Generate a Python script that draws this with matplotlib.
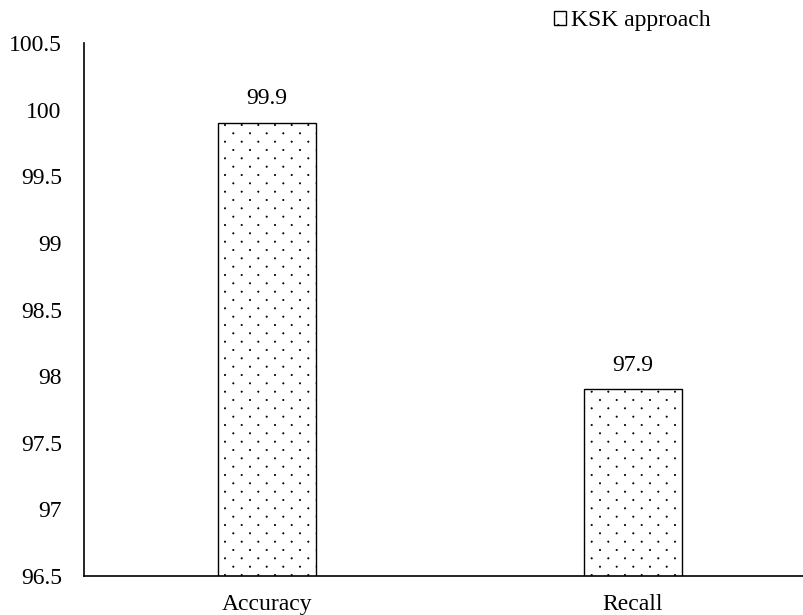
import numpy as np
import matplotlib
matplotlib.use("Agg")
import matplotlib.pyplot as plt
import matplotlib.hatch as mhatch
from matplotlib.path import Path

plt.rcParams["font.family"] = ["Liberation Serif", "DejaVu Serif"]
plt.rcParams["hatch.linewidth"] = 0.5

metrics = ["Accuracy", "Recall"]
scores = [99.9, 97.9]
series_name = "KSK approach"
yticks = [96.5, 97, 97.5, 98, 98.5, 99, 99.5, 100, 100.5]
ytick_labels = ["96.5", "97", "97.5", "98", "98.5", "99", "99.5", "100", "100.5"]


# the '.' hatch of matplotlib is too coarse vertically, so swap in a dot
# pattern with rows twice as close (like the office-style dotted fill)
class SparseDots(mhatch.HatchPatternBase):
    def __init__(self, hatch, density):
        cols = hatch.count(".") * density
        rows = 2 * cols
        circle = Path.unit_circle()
        self.shape_vertices = circle.vertices * (0.04 / max(cols, 1))
        self.shape_codes = circle.codes
        self.points = []
        for r in range(rows + 1):
            if r % 2 == 0:
                xs = np.linspace(0, 1, cols + 1)
            else:
                xs = np.linspace(0.5 / max(cols, 1), 1 - 0.5 / max(cols, 1), cols)
            for xx in xs:
                self.points.append((xx, r / rows))
        self.num_vertices = len(self.points) * len(self.shape_vertices) if cols else 0

    def set_vertices_and_codes(self, vertices, codes):
        nv = len(self.shape_vertices)
        for i, (px, py) in enumerate(self.points):
            vertices[i * nv:(i + 1) * nv] = self.shape_vertices + (px, py)
            codes[i * nv:(i + 1) * nv] = self.shape_codes


mhatch._hatch_types = [
    SparseDots if t is mhatch.SmallFilledCircles else t for t in mhatch._hatch_types
]

fig = plt.figure(figsize=(8.04, 6.15), dpi=100)
ax = fig.add_axes([84 / 804, 1 - 576 / 615, 1 - 84 / 804, (576 - 43) / 615])

x = list(range(len(metrics)))
bars = ax.bar(
    x,
    scores,
    width=0.27,
    color="white",
    edgecolor="black",
    linewidth=1.0,
    hatch=".",
    label=series_name,
)

for xi, v in zip(x, scores):
    ax.annotate(
        f"{v}",
        (xi, v),
        xytext=(0, 10),
        textcoords="offset points",
        ha="center",
        va="bottom",
        fontsize=17,
    )

ax.set_ylim(96.5, 100.5)
ax.set_xlim(-0.5, 1.467)
ax.set_yticks(yticks)
ax.set_yticklabels(ytick_labels)
ax.set_xticks(x)
ax.set_xticklabels(metrics)
ax.tick_params(axis="y", length=0, pad=16, labelsize=17)
ax.tick_params(axis="x", length=0, pad=13, labelsize=17)

ax.spines["top"].set_visible(False)
ax.spines["right"].set_visible(False)
ax.spines["left"].set_linewidth(1.2)
ax.spines["bottom"].set_linewidth(1.2)

fig.legend(
    loc="upper left",
    bbox_to_anchor=(533 / 804, 1 + 11 / 615),
    frameon=False,
    fontsize=17,
    handlelength=0.5,
    handleheight=0.5,
    handletextpad=0.2,
)

fig.savefig("out.png", dpi=100)
